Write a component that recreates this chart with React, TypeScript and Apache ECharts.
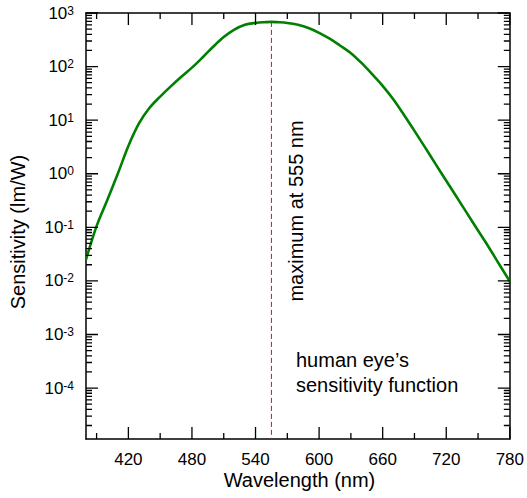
import React, { useEffect, useRef } from 'react';
import * as echarts from 'echarts';

// Wavelength (nm) and luminous sensitivity (lm/W)
const wavelengths = [
  380, 390, 400, 410, 420, 430, 440, 450, 460, 470, 480, 490, 500, 510, 520, 530, 540, 550, 555,
  560, 570, 580, 590, 600, 610, 620, 630, 640, 650, 660, 670, 680, 690, 700, 710, 720, 730, 740,
  750, 760, 770, 780,
];
const sensitivity = [
  0.025, 0.105, 0.32, 1.0, 3.3, 8.7, 17, 27.5, 42.7, 64.6, 95.5, 148, 234, 355, 490, 603, 653, 676, 683,
  676, 653, 603, 525, 427, 331, 245, 178, 117, 72.4, 43.7, 24.5, 12.6, 6.3, 3.1, 1.51, 0.74, 0.363, 0.178,
  0.087, 0.043, 0.0204, 0.0098,
];

const xMajorTicks = [420, 480, 540, 600, 660, 720, 780];
const xMinorTicks = [390, 450, 510, 570, 630, 690, 750];
const yDecades = [-4, -3, -2, -1, 0, 1, 2, 3];
const yMinorMultipliers = [2, 3, 4, 5, 6, 7, 8, 9];

const peakWavelength = 555;
const peakValue = 683;

const X_MIN = 380;
const X_MAX = 780;
const Y_MIN = 1.12e-5;
const Y_MAX = 1000;

const MAJOR_LEN = 12;
const MINOR_LEN = 6;

const FONT = '"Liberation Sans", Arial, Helvetica, sans-serif';

export default function App() {
  const ref = useRef<HTMLDivElement>(null);

  useEffect(() => {
    if (!ref.current) return;
    const chart = echarts.init(ref.current, undefined, { renderer: 'svg' });

    const yMinLog = Math.log10(Y_MIN);
    const yMaxLog = Math.log10(Y_MAX);
    const yMinorTicks: number[] = [];
    for (let n = -5; n <= 2; n++) {
      for (const k of yMinorMultipliers) {
        const v = Math.log10(k) + n;
        if (v > yMinLog && v < yMaxLog) yMinorTicks.push(v);
      }
    }

    const makeX = (position: string, showLabel: boolean) => ({
      type: 'value',
      position,
      min: X_MIN,
      max: X_MAX,
      axisLine: { show: true, onZero: false, lineStyle: { color: '#000', width: 1.5 } },
      axisTick: { show: false },
      axisLabel: {
        show: showLabel,
        customValues: xMajorTicks,
        margin: 12,
        color: '#000',
        fontSize: 17,
        fontFamily: FONT,
      },
      splitLine: { show: false },
    });

    const makeY = (position: string, showLabel: boolean) => ({
      type: 'value',
      position,
      min: yMinLog,
      max: yMaxLog,
      axisLine: { show: true, onZero: false, lineStyle: { color: '#000', width: 1.5 } },
      axisTick: { show: false },
      axisLabel: {
        show: showLabel,
        customValues: yDecades,
        margin: 12,
        color: '#000',
        fontFamily: FONT,
        formatter: (v: number) => `{base|10}{sup|${Math.round(v)}}`,
        rich: {
          base: { fontSize: 17, lineHeight: 17, fontFamily: FONT, color: '#000' },
          sup: { fontSize: 12, lineHeight: 4, verticalAlign: 'top', fontFamily: FONT, color: '#000' },
        },
      },
      splitLine: { show: false },
    });

    const curveSeries = {
      type: 'line',
      xAxisIndex: 0,
      yAxisIndex: 0,
      data: wavelengths.map((w, i) => [w, Math.log10(sensitivity[i])]),
      showSymbol: false,
      symbol: 'none',
      smooth: 0.35,
      lineStyle: { color: '#008000', width: 2.6 },
      itemStyle: { color: '#008000' },
      z: 3,
    };

    chart.setOption({
      animation: false,
      backgroundColor: '#fff',
      grid: { left: 86, right: 14, top: 13, bottom: 59, containLabel: false },
      xAxis: [makeX('bottom', true), makeX('top', false)],
      yAxis: [makeY('left', true), makeY('right', false)],
      series: [curveSeries],
    });

    const xPix = (v: number) => Number(chart.convertToPixel({ xAxisIndex: 0 }, v));
    const yPix = (v: number) => Number(chart.convertToPixel({ yAxisIndex: 0 }, v));
    const pxPerX = (xPix(X_MAX) - xPix(X_MIN)) / (X_MAX - X_MIN);
    const pxPerY = (yPix(yMinLog) - yPix(yMaxLog)) / (yMaxLog - yMinLog);

    // tick segments, in data units, separated by empty points
    const tickData: any[] = [];
    const addX = (v: number, len: number) => {
      const d = len / pxPerY;
      tickData.push([v, yMinLog], [v, yMinLog + d], [v, '-']);
      tickData.push([v, yMaxLog], [v, yMaxLog - d], [v, '-']);
    };
    const addY = (v: number, len: number) => {
      const d = len / pxPerX;
      tickData.push([X_MIN, v], [X_MIN + d, v], [X_MIN + d, '-']);
      tickData.push([X_MAX, v], [X_MAX - d, v], [X_MAX - d, '-']);
    };
    xMajorTicks.forEach((v) => addX(v, MAJOR_LEN));
    xMinorTicks.forEach((v) => addX(v, MINOR_LEN));
    yDecades.forEach((v) => addY(v, MAJOR_LEN));
    yMinorTicks.forEach((v) => addY(v, MINOR_LEN));

    const tickSeries = {
      type: 'line',
      xAxisIndex: 0,
      yAxisIndex: 0,
      data: tickData,
      showSymbol: false,
      symbol: 'none',
      silent: true,
      clip: false,
      connectNulls: false,
      smooth: false,
      lineStyle: { color: '#000', width: 1.3 },
      itemStyle: { color: '#000' },
      z: 4,
    };

    const markerSeries = {
      type: 'line',
      xAxisIndex: 0,
      yAxisIndex: 0,
      data: [
        [peakWavelength, Math.log10(peakValue)],
        [peakWavelength, yMinLog],
      ],
      showSymbol: false,
      symbol: 'none',
      silent: true,
      lineStyle: { color: '#ff0000', width: 1, type: [5, 3] },
      itemStyle: { color: '#ff0000' },
      z: 2,
    };

    const textEl = (x: number, y: number, text: string, rotate: boolean, extra: any = {}) => ({
      type: 'text',
      x,
      y,
      rotation: rotate ? Math.PI / 2 : 0,
      style: {
        text,
        fontSize: 20,
        fontFamily: FONT,
        fill: '#000',
        align: 'center',
        verticalAlign: 'middle',
        ...extra,
      },
    });

    chart.setOption({
      series: [curveSeries, tickSeries, markerSeries],
      graphic: {
        elements: [
          textEl(18, 232, 'Sensitivity (lm/W)', true),
          textEl(299.5, 480.3, 'Wavelength (nm)', false),
          textEl(295.5, 211, 'maximum at 555 nm', true),
          textEl(296, 347, 'human eye\u2019s\nsensitivity function', false, {
            align: 'left',
            verticalAlign: 'top',
            lineHeight: 25,
          }),
        ],
      },
    });

    return () => chart.dispose();
  }, []);

  return (
    <div
      ref={ref}
      style={{ position: 'fixed', left: 0, top: 0, width: 527, height: 498, background: '#fff' }}
    />
  );
}
